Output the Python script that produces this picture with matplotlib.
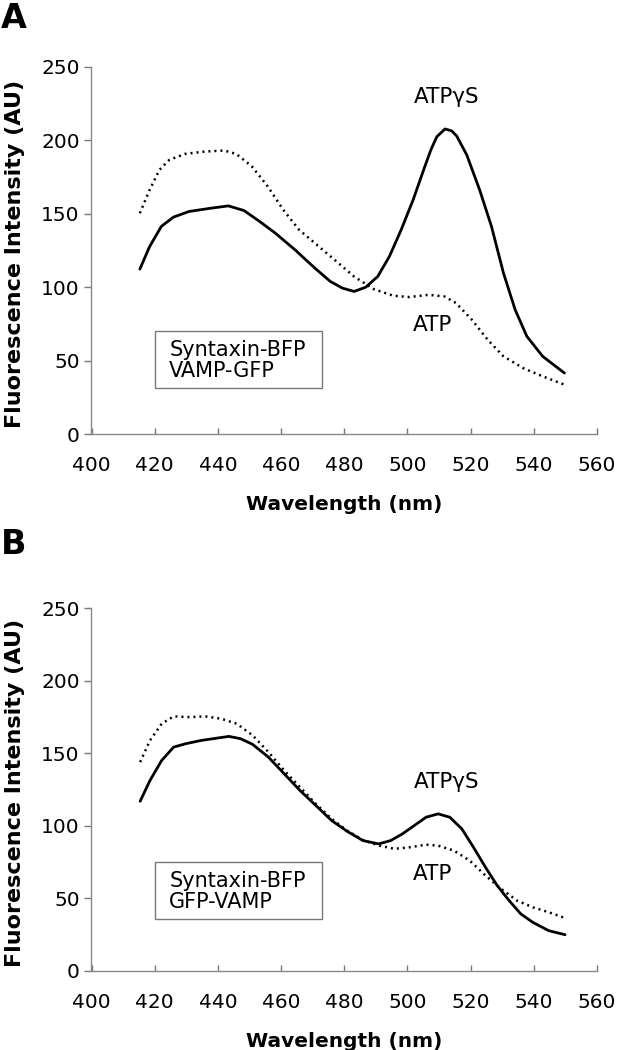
import matplotlib
matplotlib.use("Agg")
import matplotlib.pyplot as plt
from matplotlib.patches import Rectangle

plt.rcParams['font.family'] = ['DejaVu Sans']

# Panel A data
a_atpgs_x = [415.3, 418.4, 422.1, 425.9, 430.9, 437.1, 443.3, 448.3, 453.2, 458.2, 464.4, 470.7, 475.6,
             479.4, 483.1, 486.8, 490.6, 494.3, 498.0, 501.8, 505.5, 507.5, 509.3, 511.9, 514.0, 515.6,
             518.8, 522.9, 526.6, 530.4, 534.1, 537.8, 542.8, 549.7]
a_atpgs_y = [112.3, 127.7, 141.4, 147.7, 151.6, 153.6, 155.4, 152.2, 144.8, 136.8, 125.5, 113.0, 103.9,
             99.4, 97.1, 100.0, 107.3, 121.0, 139.0, 159.5, 182.2, 194.0, 202.5, 207.8, 206.5, 203.0,
             190.0, 166.0, 141.4, 109.6, 84.6, 66.5, 52.9, 41.5]
a_atp_x = [415.3, 418.4, 421.5, 424.6, 429.6, 435.8, 442.0, 445.8, 450.8, 455.8, 460.7, 465.7, 470.7,
           476.9, 483.1, 489.3, 495.5, 500.5, 506.7, 511.7, 515.4, 520.4, 525.4, 530.4, 536.6, 542.8, 549.7]
a_atp_y = [150.4, 166.3, 179.9, 186.7, 190.8, 192.4, 193.1, 190.8, 182.2, 168.6, 152.7, 139.1, 130.0,
           118.7, 107.3, 98.7, 94.2, 93.3, 94.8, 93.7, 89.2, 77.8, 64.2, 52.9, 44.9, 39.3, 33.6]

# Panel B data
b_atpgs_x = [415.4, 418.5, 422.2, 426.0, 429.7, 434.7, 439.7, 443.5, 447.2, 451.0, 456.0, 461.0, 466.0,
             471.0, 476.0, 480.9, 485.9, 490.9, 494.7, 498.4, 502.2, 505.9, 509.7, 513.4, 517.2, 520.9,
             524.7, 528.4, 532.2, 535.9, 539.7, 544.7, 549.9]
b_atpgs_y = [116.8, 131.1, 144.9, 154.1, 156.4, 158.7, 160.3, 161.5, 159.9, 156.0, 147.2, 135.7, 124.2,
             113.9, 103.5, 96.1, 89.7, 87.4, 89.7, 94.3, 100.1, 105.8, 108.1, 105.8, 97.8, 85.1,
             71.3, 58.7, 48.3, 39.1, 33.3, 27.6, 24.8]
b_atp_x = [415.4, 418.5, 422.2, 426.0, 431.0, 436.0, 441.0, 446.0, 451.0, 456.0, 461.0, 466.0, 471.0,
           476.0, 480.9, 485.9, 490.9, 495.9, 500.9, 505.9, 509.7, 514.7, 519.7, 524.7, 529.7, 534.7,
           539.7, 544.7, 549.9]
b_atp_y = [143.8, 158.7, 170.2, 175.3, 174.8, 175.3, 173.7, 170.2, 162.2, 150.7, 138.0, 126.5, 115.0,
           104.7, 96.6, 90.1, 86.3, 84.0, 85.1, 86.9, 86.2, 82.8, 75.9, 65.6, 56.4, 48.3,
           43.7, 40.3, 36.3]

x_ticks = [400, 420, 440, 460, 480, 500, 520, 540, 560]
y_ticks = [0, 50, 100, 150, 200, 250]
panel_labels = ['A', 'B']
box_texts = ['Syntaxin-BFP\nVAMP-GFP', 'Syntaxin-BFP\nGFP-VAMP']
series_labels = ['ATP\u03b3S', 'ATP']

W, H = 617, 1050
fig = plt.figure(figsize=(W / 100, H / 100), dpi=100)

panels = [
    dict(rect=[91.5 / W, 1 - 434 / H, (597 - 91.5) / W, (434 - 67) / H],
         s=(a_atpgs_x, a_atpgs_y), d=(a_atp_x, a_atp_y),
         lab_gs=(512.3, 229.9), lab_atp=(508, 74.4),
         box=(420, 31.3, 52.8, 38.6), boxtext=(424.6, 50.0), letter_y=1 - 19 / H),
    dict(rect=[91.5 / W, 1 - 970.7 / H, (597 - 91.5) / W, (970.7 - 608) / H],
         s=(b_atpgs_x, b_atpgs_y), d=(b_atp_x, b_atp_y),
         lab_gs=(512.4, 130), lab_atp=(507.9, 66.7),
         box=(420.1, 35.7, 52.7, 39.1), boxtext=(424.6, 54.5), letter_y=1 - 545 / H),
]

for i, p in enumerate(panels):
    ax = fig.add_axes(p['rect'])
    ax.plot(p['s'][0], p['s'][1], color='black', lw=2.0,
            solid_capstyle='round', solid_joinstyle='round')
    ax.plot(p['d'][0], p['d'][1], color='black', lw=1.8, linestyle=(0, (0.8, 1.6)))
    ax.set_xlim(400, 560)
    ax.set_ylim(0, 250)
    ax.set_xticks(x_ticks)
    ax.set_yticks(y_ticks)
    ax.tick_params(width=1.0, color='#777777', labelsize=14.5)
    ax.tick_params(axis='y', direction='out', length=5, pad=3.5)
    ax.tick_params(axis='x', direction='in', length=4, pad=16)
    for side in ['top', 'right']:
        ax.spines[side].set_visible(False)
    for side in ['left', 'bottom']:
        ax.spines[side].set_color('#888888')
        ax.spines[side].set_linewidth(1.0)
    ax.set_xlabel('Wavelength (nm)', fontsize=14.5, fontweight='bold')
    ax.set_ylabel('Fluorescence Intensity (AU)', fontsize=16, fontweight='bold')
    ax.xaxis.set_label_coords(0.5, -71 / (p['rect'][3] * H))
    ax.xaxis.label.set_va('center')
    ax.yaxis.label.set_va('center')
    ax.yaxis.set_label_coords(-(91.5 - 15) / (p['rect'][2] * W), 0.49)
    ax.text(p['lab_gs'][0], p['lab_gs'][1], series_labels[0], fontsize=15.5,
            ha='center', va='center')
    ax.text(p['lab_atp'][0], p['lab_atp'][1], series_labels[1], fontsize=15.5,
            ha='center', va='center')
    bx, by, bw, bh = p['box']
    ax.add_patch(Rectangle((bx, by), bw, bh, fill=False, edgecolor='#777777', lw=1.0))
    ax.text(p['boxtext'][0], p['boxtext'][1], box_texts[i], fontsize=15,
            ha='left', va='center', linespacing=1.05)
    fig.text(1 / W, p['letter_y'], panel_labels[i], fontsize=24, fontweight='bold',
             ha='left', va='center')

fig.savefig('out.png', dpi=100)
